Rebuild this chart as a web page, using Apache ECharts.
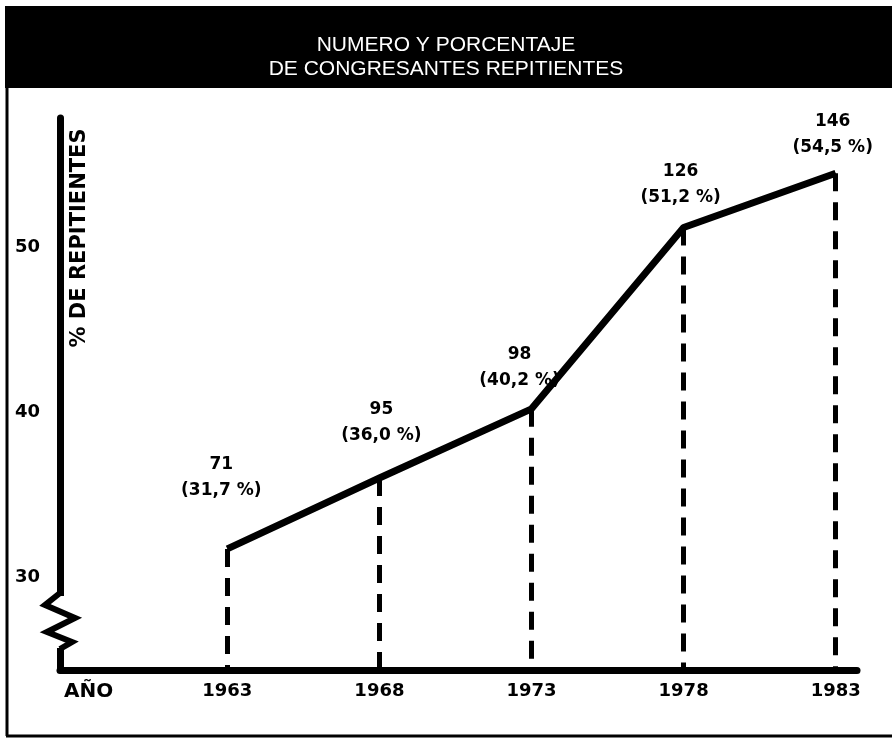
<!DOCTYPE html>
<html>
<head>
<meta charset="utf-8">
<script src="https://cdn.jsdelivr.net/npm/echarts@6/dist/echarts.min.js"></script>
<style>
  html, body { margin: 0; padding: 0; background: #fff; }
  #chart { width: 892px; height: 742px; }
</style>
</head>
<body>
<div id="chart"></div>
<script>
// data
const years = [1963, 1968, 1973, 1978, 1983]
const congresantes = [71, 95, 98, 126, 146]
const porcentaje = [31.7, 36.0, 40.2, 51.2, 54.5]
const yTicks = [30, 40, 50]

// small nudges so labels sit where the original put them
const labelDx = [-6, 2, -12, -3, -3]
const labelDy = [-45, -29, -15, -16, -12]

const Y_MIN = 24.35
const Y_MAX = 57.85
const font = 'DejaVu Sans'

function pctText(v) {
  return v.toFixed(1).replace('.', ',')
}

const points = years.map((y, i) => [y, porcentaje[i]])

// dashed drop lines from every point down to the year axis
const dropLines = years.map((y, i) => [
  { coord: [y, porcentaje[i]] },
  { coord: [y, Y_MIN] }
])

const option = {
  animation: false,
  title: {
    text: 'NUMERO Y PORCENTAJE\nDE CONGRESANTES REPITIENTES',
    left: 'center',
    top: 28,
    textStyle: {
      color: '#fff',
      fontFamily: 'Liberation Sans',
      fontWeight: 'normal',
      fontSize: 21,
      lineHeight: 24
    }
  },
  grid: { left: 60, right: 35, top: 118, bottom: 72 },
  xAxis: {
    type: 'value',
    min: 1957.5,
    max: 1983.7,
    splitLine: { show: false },
    axisTick: { show: false },
    axisLine: { lineStyle: { color: '#000', width: 7 } },
    axisLabel: {
      customValues: years,
      formatter: v => String(v),
      margin: 12,
      color: '#000',
      fontFamily: font,
      fontWeight: 'bold',
      fontSize: 18
    }
  },
  yAxis: {
    type: 'value',
    min: Y_MIN,
    max: Y_MAX,
    splitLine: { show: false },
    axisTick: { show: false },
    axisLine: { show: true, lineStyle: { color: '#000', width: 7 } },
    axisLabel: {
      customValues: yTicks,
      margin: 20,
      color: '#000',
      fontFamily: font,
      fontWeight: 'bold',
      fontSize: 18
    }
  },
  series: [
    {
      type: 'line',
      data: points,
      symbol: 'circle',
      symbolSize: 1,
      showSymbol: true,
      itemStyle: { color: '#000' },
      lineStyle: { color: '#000', width: 7, join: 'round' },
      label: {
        show: true,
        position: 'top',
        distance: 0,
        color: '#000',
        fontFamily: font,
        fontWeight: 'bold',
        fontSize: 17,
        lineHeight: 26,
        align: 'center',
        formatter: p => congresantes[p.dataIndex] + '\n(' + pctText(porcentaje[p.dataIndex]) + ' %)'
      },
      labelLayout: p => ({ dx: labelDx[p.dataIndex], dy: labelDy[p.dataIndex], hideOverlap: false }),
      markLine: {
        silent: true,
        symbol: 'none',
        label: { show: false },
        lineStyle: { color: '#000', width: 5, type: [18, 11] },
        data: dropLines
      },
      z: 3
    }
  ],
  graphic: [
    // black title banner
    { type: 'rect', shape: { x: 5, y: 6, width: 887, height: 82 }, style: { fill: '#000' }, z: 0 },
    // frame
    { type: 'line', shape: { x1: 7, y1: 86, x2: 7, y2: 736 }, style: { stroke: '#000', lineWidth: 3 } },
    { type: 'line', shape: { x1: 6, y1: 736, x2: 892, y2: 736 }, style: { stroke: '#000', lineWidth: 3 } },
    // axis break on the y axis
    { type: 'rect', shape: { x: 54, y: 596, width: 12, height: 52 }, style: { fill: '#fff' }, z: 10 },
    {
      type: 'polyline',
      shape: { points: [[60, 593], [45, 605], [75, 618], [47, 632], [72, 642], [60, 649]] },
      style: { stroke: '#000', lineWidth: 6, fill: null, lineJoin: 'miter' },
      z: 11
    },
    // y axis title
    {
      type: 'text',
      x: 80, y: 238,
      rotation: Math.PI / 2,
      style: {
        text: '% DE REPITIENTES',
        fill: '#000',
        font: 'bold 21px "DejaVu Sans"',
        textAlign: 'center',
        textVerticalAlign: 'middle'
      }
    },
    // x axis title
    {
      type: 'text',
      x: 64, y: 692,
      style: {
        text: 'AÑO',
        fill: '#000',
        font: 'bold 20px "DejaVu Sans"',
        textAlign: 'left',
        textVerticalAlign: 'middle'
      }
    }
  ]
}

const chart = echarts.init(document.getElementById('chart'))
chart.setOption(option)
</script>
</body>
</html>
